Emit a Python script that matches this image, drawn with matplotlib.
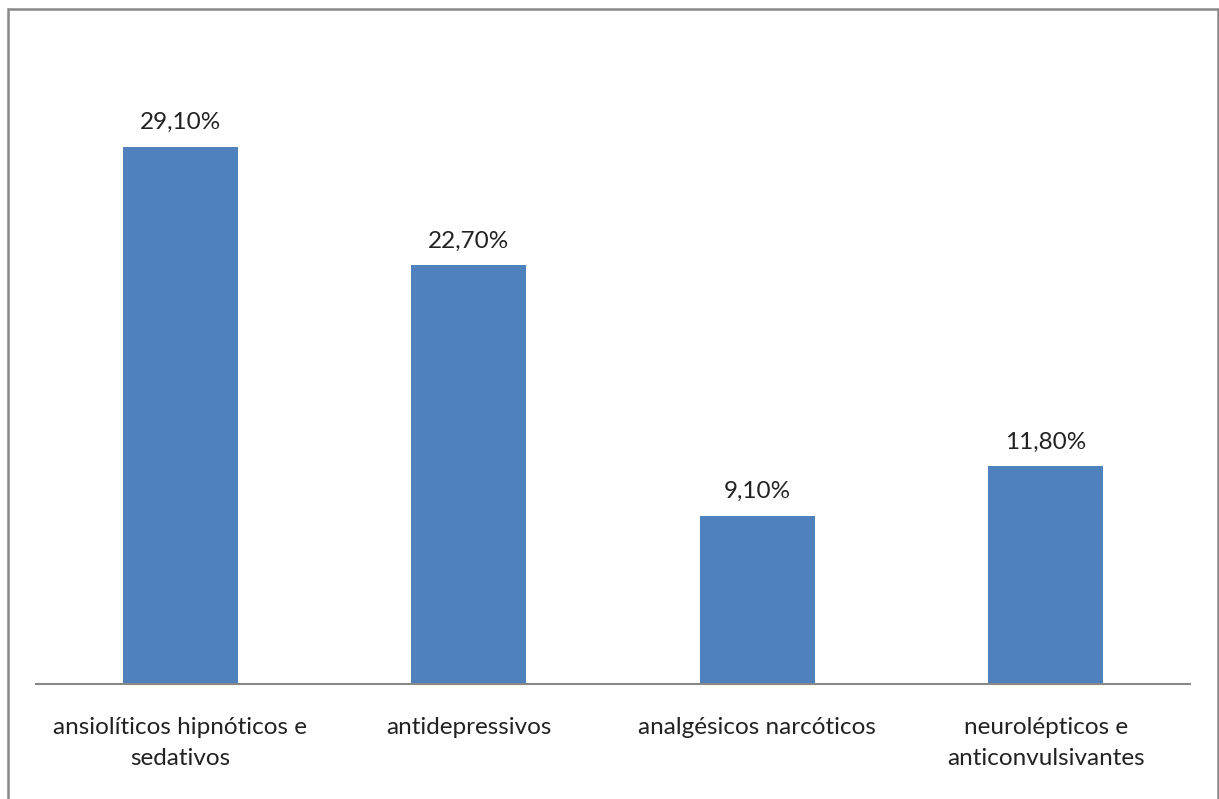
import matplotlib.pyplot as plt
from matplotlib.patches import Rectangle

plt.rcParams['font.family'] = ['Lato', 'DejaVu Sans']

categorias = ['ansiolíticos hipnóticos e\nsedativos', 'antidepressivos',
              'analgésicos narcóticos', 'neurolépticos e\nanticonvulsivantes']
valores = [29.1, 22.7, 9.1, 11.8]
rotulos = ['29,10%', '22,70%', '9,10%', '11,80%']

W, H = 1219, 799
fig = plt.figure(figsize=(W / 100, H / 100), dpi=100)
fig.patch.set_facecolor('white')

# moldura cinza em volta do grafico
fig.patches.append(Rectangle((8 / W, -0.05), 1210 / W, 1.05 - 9 / H,
                             transform=fig.transFigure, fill=False,
                             edgecolor='#888888', linewidth=1.8))

ax = fig.add_axes([36 / W, 115 / H, 1154 / W, 35 * 18.45 / H])
x = range(len(categorias))
ax.bar(x, valores, width=0.4, color='#4F81BD')
for i, v in enumerate(valores):
    ax.text(i, v + 0.75, rotulos[i], ha='center', va='bottom', fontsize=17.5, color='#222222')

ax.set_xlim(-0.5, 3.5)
ax.set_ylim(0, 35)
ax.set_xticks(list(x))
ax.set_xticklabels(categorias, fontsize=17.5, color='#222222', linespacing=1.55)
ax.tick_params(axis='x', length=0, pad=24)
ax.set_yticks([])
for s in ['top', 'right', 'left']:
    ax.spines[s].set_visible(False)
ax.spines['bottom'].set_color('#888888')
ax.spines['bottom'].set_linewidth(1.5)

fig.savefig('out.png', dpi=100)
